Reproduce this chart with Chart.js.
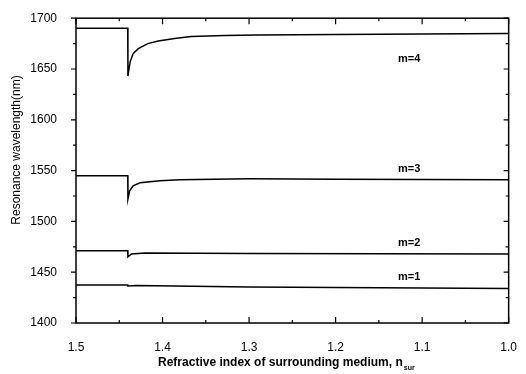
<!DOCTYPE html>
<html>
<head>
<meta charset="utf-8">
<script src="https://cdn.jsdelivr.net/npm/chart.js@4.4.1/dist/chart.umd.min.js"></script>
<style>
    html, body { margin: 0; padding: 0; background: #fff; }
    #wrap { width: 526px; height: 374px; }
</style>
</head>
<body>
<div id="wrap"><canvas id="resonanceChart" width="526" height="374"></canvas></div>
<script>
    'use strict';

    // Resonance wavelength (nm) against surrounding refractive index, one curve per mode order
    var nSur1 = [1.5, 1.4402, 1.44, 1.43, 1.3, 1.0];
    var wl1   = [1437.5, 1437.5, 1436.5, 1437, 1435.5, 1434];

    var nSur2 = [1.5, 1.4402, 1.44, 1.436, 1.42, 1.3, 1.0];
    var wl2   = [1471, 1471, 1465, 1468, 1469, 1468.5, 1468];

    var nSur3 = [1.5, 1.4402, 1.44, 1.438, 1.434, 1.426, 1.403, 1.38, 1.3, 1.2, 1.0];
    var wl3   = [1545, 1545, 1522, 1530, 1535, 1538, 1540, 1541, 1542, 1541.5, 1541];

    var nSur4 = [1.5, 1.4402, 1.44, 1.4375, 1.434, 1.428, 1.417, 1.405, 1.386, 1.367, 1.328, 1.29, 1.2, 1.1, 1.0];
    var wl4   = [1690, 1690, 1643, 1657, 1665, 1670, 1675, 1677.5, 1680, 1682, 1683, 1683.5, 1684, 1684.5, 1685];

    // curve labels and where they sit (data units)
    var modeLabels = ['m=1', 'm=2', 'm=3', 'm=4'];
    var modeLabelN = [1.115, 1.115, 1.115, 1.115];
    var modeLabelWl = [1445, 1479, 1552, 1660];

    var xTicksMajor = [1.5, 1.4, 1.3, 1.2, 1.1, 1.0];
    var yTicksMajor = [1400, 1450, 1500, 1550, 1600, 1650, 1700];

    var FONT = '"Liberation Sans", Arial, sans-serif';

    function toPoints(xs, ys) {
        return xs.map(function(x, i) { return {x: x, y: ys[i]}; });
    }

    function lineSet(label, xs, ys) {
        return {
            label: label,
            data: toPoints(xs, ys),
            borderColor: '#000',
            borderWidth: 1.5,
            pointRadius: 0,
            tension: 0,
            fill: false
        };
    }

    function isMajor(value, list) {
        return list.some(function(v) { return Math.abs(v - value) < 1e-6; });
    }

    // Box frame, inward/outward tick marks, axis titles and curve labels
    var framePlugin = {
        id: 'frame',
        afterDraw: function(chart) {
            var ctx = chart.ctx;
            var area = chart.chartArea;
            var xs = chart.scales.x;
            var ys = chart.scales.y;

            ctx.save();
            ctx.strokeStyle = '#000';
            ctx.lineWidth = 1.5;
            ctx.strokeRect(area.left, area.top, area.right - area.left, area.bottom - area.top);

            ctx.lineWidth = 1.2;
            ctx.beginPath();
            xs.ticks.forEach(function(t) {
                var px = xs.getPixelForValue(t.value);
                var len = isMajor(t.value, xTicksMajor) ? 6 : 3;
                ctx.moveTo(px, area.bottom);
                ctx.lineTo(px, area.bottom - len);
                ctx.moveTo(px, area.top);
                ctx.lineTo(px, area.top + len);
            });
            ys.ticks.forEach(function(t) {
                var py = ys.getPixelForValue(t.value);
                var len = isMajor(t.value, yTicksMajor) ? 5 : 3;
                ctx.moveTo(area.left, py);
                ctx.lineTo(area.left - len, py);
                ctx.moveTo(area.right, py);
                ctx.lineTo(area.right - len, py);
            });
            ctx.stroke();

            // curve labels
            ctx.fillStyle = '#000';
            ctx.font = 'bold 11px ' + FONT;
            ctx.textAlign = 'center';
            ctx.textBaseline = 'middle';
            modeLabels.forEach(function(txt, i) {
                ctx.fillText(txt, xs.getPixelForValue(modeLabelN[i]), ys.getPixelForValue(modeLabelWl[i]));
            });

            // x title with subscript
            var main = 'Refractive index of surrounding medium, n';
            ctx.font = 'bold 12px ' + FONT;
            var wMain = ctx.measureText(main).width;
            ctx.font = 'bold 7px ' + FONT;
            var wSub = ctx.measureText('sur').width;
            var startX = (area.left + area.right) / 2 - (wMain + wSub + 1) / 2 - 6;
            ctx.textAlign = 'left';
            ctx.textBaseline = 'alphabetic';
            ctx.font = 'bold 12px ' + FONT;
            ctx.fillText(main, startX, 366);
            ctx.font = 'bold 7px ' + FONT;
            ctx.fillText('sur', startX + wMain + 1, 370);

            // y title
            ctx.translate(17, 150);
            ctx.rotate(-Math.PI / 2);
            ctx.font = '12px ' + FONT;
            ctx.textAlign = 'center';
            ctx.textBaseline = 'middle';
            ctx.fillText('Resonance wavelength(nm)', 0, 0);
            ctx.restore();
        }
    };

    var ctx = document.getElementById('resonanceChart');
    new Chart(ctx, {
        type: 'line',
        data: {
            datasets: [
                lineSet('m=1', nSur1, wl1),
                lineSet('m=2', nSur2, wl2),
                lineSet('m=3', nSur3, wl3),
                lineSet('m=4', nSur4, wl4)
            ]
        },
        options: {
            responsive: false,
            animation: false,
            layout: { padding: { left: 0, top: 16, right: 16, bottom: 0 } },
            plugins: {
                legend: { display: false },
                tooltip: { enabled: false }
            },
            scales: {
                x: {
                    type: 'linear',
                    reverse: true,
                    min: 1.0,
                    max: 1.5,
                    border: { display: false },
                    grid: { display: false },
                    ticks: {
                        stepSize: 0.05,
                        padding: 9,
                        maxRotation: 0,
                        autoSkip: false,
                        color: '#000',
                        font: { family: FONT, size: 12 },
                        callback: function(v) {
                            return isMajor(v, xTicksMajor) ? v.toFixed(1) : '';
                        }
                    },
                    afterFit: function(scale) { scale.height = 51; }
                },
                y: {
                    min: 1400,
                    max: 1700,
                    border: { display: false },
                    grid: { display: false },
                    ticks: {
                        stepSize: 25,
                        padding: 11,
                        autoSkip: false,
                        color: '#000',
                        font: { family: FONT, size: 12 },
                        callback: function(v) {
                            return isMajor(v, yTicksMajor) ? String(v) : '';
                        }
                    },
                    afterFit: function(scale) { scale.width = 76; }
                }
            }
        },
        plugins: [framePlugin]
    });
</script>
</body>
</html>
